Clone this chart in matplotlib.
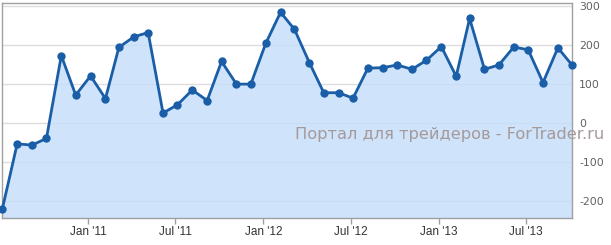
import matplotlib
matplotlib.use("Agg")
import matplotlib.pyplot as plt
import matplotlib.dates as mdates
import pandas as pd

plt.rcParams["axes.unicode_minus"] = False

# Data: monthly values (points sit a few days into each month)
dates = pd.date_range("2010-07-01", periods=40, freq="MS") + pd.Timedelta(days=5)
values = [-220, -53, -56, -39, 173, 72, 121, 63, 194, 221, 232,
          26, 47, 85, 58, 158, 100, 100, 204, 284, 240, 155,
          78, 78, 64, 141, 142, 149, 138, 161, 196, 120,
          268, 138, 149, 195, 188, 104, 193, 148]
y_ticks = [-200, -100, 0, 100, 200, 300]
watermark = "Портал для трейдеров - ForTrader.ru"

fig = plt.figure(figsize=(6.11, 2.45), dpi=100)
ax = fig.add_axes([2.3 / 611, (245 - 218.3) / 245, 570 / 611, 215 / 245])

ax.set_ylim(-243.5, 306.9)
ax.set_xlim(dates[0], dates[-1])
ymin = ax.get_ylim()[0]

ax.set_yticks(y_ticks)
ax.yaxis.grid(True, color="#dddddd", linewidth=1, zorder=0)
ax.set_axisbelow(True)

ax.fill_between(dates, values, ymin, color="#c4ddfb", alpha=0.8, linewidth=0, zorder=1)
ax.plot(dates, values, color="#1a5ea8", linewidth=2, marker="o", markersize=6,
        markeredgewidth=0, zorder=3, clip_on=False)

ax.yaxis.tick_right()
ax.tick_params(axis="y", length=0, pad=5, labelsize=7.8, labelcolor="#606060")
for lbl in ax.get_yticklabels():
    lbl.set_fontfamily("DejaVu Sans")
    lbl.set_horizontalalignment("left")

ax.xaxis.set_major_locator(mdates.MonthLocator(bymonth=[1, 7]))
ax.xaxis.set_major_formatter(mdates.DateFormatter("%b '%y"))
ax.tick_params(axis="x", length=4, width=1, color="#a0a0a0", pad=1.5,
               labelsize=8.5, labelcolor="#333333")
for lbl in ax.get_xticklabels():
    lbl.set_fontfamily("Liberation Sans")

for s in ax.spines.values():
    s.set_color("#a0a0a0")
    s.set_linewidth(1)

fig.text(295 / 611, 1 - 134 / 245, watermark, fontsize=11.7, color="#a59a9a",
         family="DejaVu Sans", ha="left", va="center", zorder=10)

fig.savefig("out.png", dpi=100)
